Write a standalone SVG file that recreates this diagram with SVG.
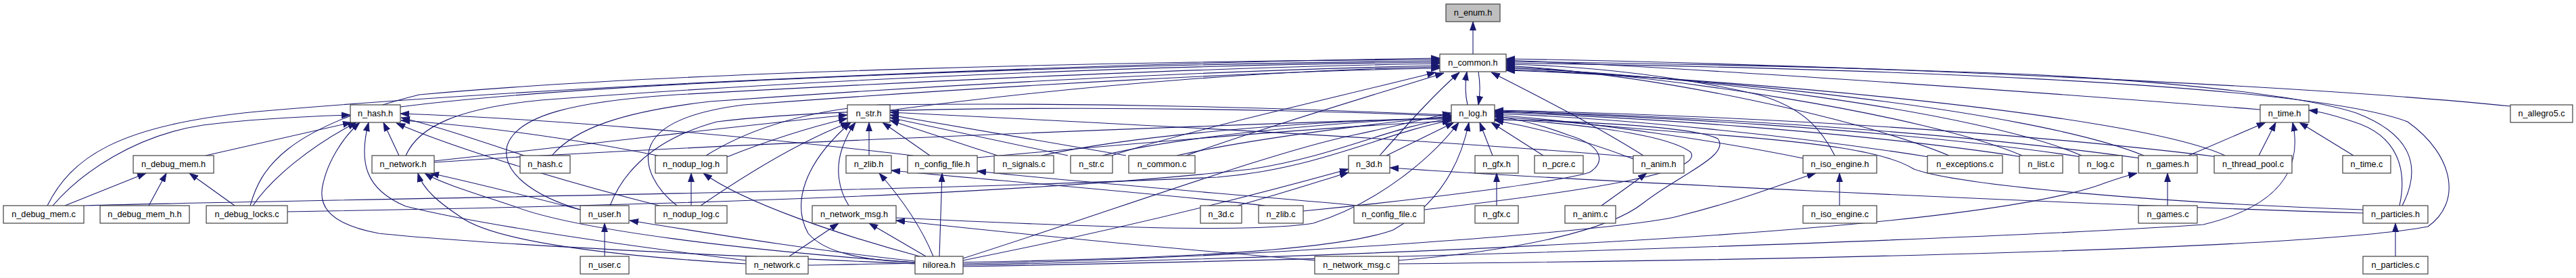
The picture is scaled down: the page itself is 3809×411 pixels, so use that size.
<svg xmlns="http://www.w3.org/2000/svg" width="3809" height="411" viewBox="0 0 3809 411">
<style>
.n rect{fill:#fff;stroke:#404040;stroke-width:1.2}
.n text{font-family:"Liberation Sans",Arial,sans-serif;font-size:12.7px;text-anchor:middle;fill:#000}
#root rect{fill:#bfbfbf}
.e path{fill:none;stroke:#191970;stroke-width:1.1;marker-end:url(#ah)}
</style>
<defs>
<marker id="ah" markerUnits="userSpaceOnUse" markerWidth="14" markerHeight="10" refX="13" refY="5" orient="auto" viewBox="0 0 14 10"><path d="M0,0.5 L13,5 L0,9.5 Z" fill="#191970" stroke="#191970" stroke-width="0.8"/></marker>
</defs>
<rect width="3809" height="411" fill="#fff"/>
<g id="connectors" class="e">
<path d="M2178,80 L2178,32"/>
<path d="M2170,155 C2166,138 2166,124 2169,106"/>
<path d="M2186,106 C2189,124 2189,138 2186,155"/>
<path d="M70,304 C105,235 170,185 380,165 C900,120 1700,92 2129,86"/>
<path d="M370,304 C385,250 420,190 620,140 C1000,105 1700,90 2129,88"/>
<path d="M592,158 C900,118 1700,94 2129,90"/>
<path d="M600,230 C620,185 680,160 800,148 C1200,118 1700,96 2129,92"/>
<path d="M858,310 C790,290 740,255 750,215 C765,170 850,150 1000,140 C1400,118 1800,99 2129,94"/>
<path d="M816,230 C850,190 920,165 1050,150 C1400,125 1800,104 2129,97"/>
<path d="M1316,163 C1600,125 1900,103 2129,99"/>
<path d="M1001,304 C970,280 950,245 962,215 C975,185 1020,165 1100,155 C1500,125 1900,104 2129,101"/>
<path d="M1644,230 C1750,195 1950,150 2123,107"/>
<path d="M1754,230 C1820,205 1950,165 2135,108"/>
<path d="M2040,230 C2080,185 2120,140 2158,107"/>
<path d="M2430,230 C2350,180 2260,135 2205,107"/>
<path d="M3712,157 C3400,125 2700,95 2227,87"/>
<path d="M3342,162 C3000,135 2500,100 2227,89"/>
<path d="M3552,304 C3580,250 3570,200 3484,167 C3400,140 3200,120 3000,110 C2700,98 2400,93 2227,91"/>
<path d="M2068,390 C2600,385 3400,370 3590,335 C3640,300 3630,230 3560,180 C3400,120 2700,100 2227,93"/>
<path d="M2713,230 C2695,195 2670,160 2600,140 C2450,105 2300,96 2227,95"/>
<path d="M2882,230 C2750,175 2450,110 2227,97"/>
<path d="M2990,230 C2850,170 2450,108 2227,99"/>
<path d="M3078,230 C2930,165 2470,107 2227,101"/>
<path d="M3170,230 C3000,160 2480,110 2227,103"/>
<path d="M3290,230 C3150,165 2500,112 2227,104"/>
<path d="M124,304 C500,294 1300,285 1800,262 C1950,250 2050,195 2146,178"/>
<path d="M425,313 C900,305 1500,290 1850,250 C1980,230 2060,185 2146,176"/>
<path d="M642,240 C1000,215 1800,185 2146,174"/>
<path d="M902,304 C915,270 950,210 1060,180 C1300,150 1900,160 2146,172"/>
<path d="M1044,230 C1100,195 1180,165 1300,155 C1700,150 2000,165 2146,170"/>
<path d="M1445,233 C1700,210 2000,185 2146,179"/>
<path d="M1540,230 C1700,195 2000,175 2146,176"/>
<path d="M1630,230 C1750,200 2000,178 2146,174"/>
<path d="M1740,230 C1850,205 2050,180 2146,172"/>
<path d="M1424,382 C1650,310 1880,225 2000,200 C2080,183 2120,172 2146,167"/>
<path d="M2050,230 L2150,181"/>
<path d="M1325,322 C1600,335 1850,345 1942,330 C2040,300 2120,230 2157,181"/>
<path d="M1195,392 C1600,385 1950,380 2060,340 C2130,300 2160,240 2172,181"/>
<path d="M2207,230 L2188,181"/>
<path d="M2282,230 L2205,181"/>
<path d="M2415,235 C2350,210 2280,190 2210,178"/>
<path d="M1927,312 C2100,295 2300,270 2350,255 C2375,240 2370,215 2320,200 C2280,185 2240,175 2210,172"/>
<path d="M2106,310 C2350,282 2520,255 2500,225 C2460,195 2300,180 2210,176"/>
<path d="M2666,234 C2550,210 2350,180 2210,170"/>
<path d="M2852,232 C2650,200 2400,175 2210,168"/>
<path d="M2990,232 C2750,195 2400,172 2210,166"/>
<path d="M3078,232 C2800,190 2400,170 2210,165"/>
<path d="M3165,234 C2850,190 2450,170 2210,164"/>
<path d="M3280,232 C2900,185 2450,168 2210,163"/>
<path d="M3494,310 C3200,300 2900,275 2830,250 C2790,225 2700,210 2480,195 C2350,185 2270,175 2210,173"/>
<path d="M2068,385 C2250,370 2380,340 2430,300 C2480,260 2560,230 2540,205 C2500,185 2300,178 2210,177"/>
<path d="M78,304 C120,255 200,200 300,185 C380,175 450,172 518,170"/>
<path d="M304,230 L520,181"/>
<path d="M374,304 C400,265 460,215 527,181"/>
<path d="M1353,390 C1000,375 700,360 560,345 C480,330 470,300 478,270 C485,240 505,205 532,181"/>
<path d="M1103,385 C900,360 700,330 600,305 C540,280 530,240 545,181"/>
<path d="M590,230 L567,181"/>
<path d="M975,304 C800,260 650,210 586,182"/>
<path d="M1350,230 C1100,200 800,175 592,168"/>
<path d="M775,230 C700,205 640,185 593,174"/>
<path d="M972,230 C850,205 700,185 593,178"/>
<path d="M96,304 L216,256"/>
<path d="M220,304 L246,256"/>
<path d="M347,304 L280,256"/>
<path d="M858,310 C780,290 700,270 636,256"/>
<path d="M1353,388 C1100,370 850,340 760,305 C700,285 650,270 628,256"/>
<path d="M1103,390 C850,375 720,350 680,320 C650,300 625,280 618,256"/>
<path d="M642,238 C900,210 1100,185 1253,170"/>
<path d="M1075,232 C1130,210 1190,190 1253,175"/>
<path d="M1036,304 C1100,260 1180,210 1256,181"/>
<path d="M1353,388 C1280,385 1220,375 1195,345 C1170,300 1190,240 1258,181"/>
<path d="M1255,304 C1240,280 1235,250 1245,220 C1252,200 1258,190 1265,181"/>
<path d="M1285,230 L1285,181"/>
<path d="M1375,230 L1305,181"/>
<path d="M1475,230 L1316,178"/>
<path d="M1579,230 L1316,174"/>
<path d="M1665,230 L1316,170"/>
<path d="M2415,232 C2100,205 1600,180 1316,166"/>
<path d="M894,379 L894,330"/>
<path d="M1353,386 C1200,370 1050,345 931,326"/>
<path d="M1022,304 L1022,256"/>
<path d="M1360,379 C1250,350 1100,300 1040,256"/>
<path d="M1167,379 L1240,330"/>
<path d="M1369,379 L1285,330"/>
<path d="M1944,385 C1700,365 1500,345 1325,326"/>
<path d="M1380,379 C1360,330 1330,290 1300,256"/>
<path d="M1870,304 C1700,285 1450,265 1318,252"/>
<path d="M1389,379 L1393,256"/>
<path d="M2010,304 C1800,285 1600,270 1445,253"/>
<path d="M1830,304 C1900,285 1960,265 1994,255"/>
<path d="M1424,385 C1650,340 1850,290 1994,250"/>
<path d="M3494,315 C3000,300 2300,265 2055,248"/>
<path d="M2213,304 L2213,256"/>
<path d="M2368,304 L2435,256"/>
<path d="M2720,304 L2720,256"/>
<path d="M1424,390 C1900,380 2400,340 2480,320 C2580,295 2640,270 2685,256"/>
<path d="M3205,304 L3205,256"/>
<path d="M1424,392 C2200,375 2900,340 3100,275 C3120,268 3135,262 3160,256"/>
<path d="M3236,230 L3350,181"/>
<path d="M3340,230 L3365,181"/>
<path d="M3480,230 L3400,181"/>
<path d="M3548,304 C3560,250 3545,200 3480,180 C3450,170 3430,165 3414,163"/>
<path d="M1424,394 C2200,380 3000,350 3258,332 C3370,305 3405,250 3390,181"/>
<path d="M3542,379 L3542,330"/>
</g>
<g id="root" class="n"><rect x="2138" y="6" width="80" height="26"/><text x="2178" y="23">n_enum.h</text></g>
<g id="n_common_h" class="n"><rect x="2129" y="80" width="98" height="26"/><text x="2178" y="97">n_common.h</text></g>
<g id="n_hash_h" class="n"><rect x="518" y="155" width="74" height="26"/><text x="555" y="172">n_hash.h</text></g>
<g id="n_str_h" class="n"><rect x="1253" y="155" width="63" height="26"/><text x="1284.5" y="172">n_str.h</text></g>
<g id="n_log_h" class="n"><rect x="2146" y="155" width="64" height="26"/><text x="2178" y="172">n_log.h</text></g>
<g id="n_time_h" class="n"><rect x="3342" y="155" width="72" height="26"/><text x="3378" y="172">n_time.h</text></g>
<g id="n_allegro5_c" class="n"><rect x="3712" y="155" width="92" height="26"/><text x="3758" y="172">n_allegro5.c</text></g>
<g id="n_debug_mem_h" class="n"><rect x="197" y="230" width="119" height="26"/><text x="256.5" y="247">n_debug_mem.h</text></g>
<g id="n_network_h" class="n"><rect x="550" y="230" width="92" height="26"/><text x="596" y="247">n_network.h</text></g>
<g id="n_hash_c" class="n"><rect x="769" y="230" width="74" height="26"/><text x="806" y="247">n_hash.c</text></g>
<g id="n_nodup_log_h" class="n"><rect x="969" y="230" width="106" height="26"/><text x="1022" y="247">n_nodup_log.h</text></g>
<g id="n_zlib_h" class="n"><rect x="1251" y="230" width="67" height="26"/><text x="1284.5" y="247">n_zlib.h</text></g>
<g id="n_config_file_h" class="n"><rect x="1342" y="230" width="103" height="26"/><text x="1393.5" y="247">n_config_file.h</text></g>
<g id="n_signals_c" class="n"><rect x="1470" y="230" width="88" height="26"/><text x="1514" y="247">n_signals.c</text></g>
<g id="n_str_c" class="n"><rect x="1583" y="230" width="62" height="26"/><text x="1614" y="247">n_str.c</text></g>
<g id="n_common_c" class="n"><rect x="1669" y="230" width="98" height="26"/><text x="1718" y="247">n_common.c</text></g>
<g id="n_3d_h" class="n"><rect x="1994" y="230" width="61" height="26"/><text x="2024.5" y="247">n_3d.h</text></g>
<g id="n_gfx_h" class="n"><rect x="2181" y="230" width="64" height="26"/><text x="2213" y="247">n_gfx.h</text></g>
<g id="n_pcre_c" class="n"><rect x="2269" y="230" width="72" height="26"/><text x="2305" y="247">n_pcre.c</text></g>
<g id="n_anim_h" class="n"><rect x="2415" y="230" width="75" height="26"/><text x="2452.5" y="247">n_anim.h</text></g>
<g id="n_iso_engine_h" class="n"><rect x="2666" y="230" width="109" height="26"/><text x="2720.5" y="247">n_iso_engine.h</text></g>
<g id="n_exceptions_c" class="n"><rect x="2850" y="230" width="111" height="26"/><text x="2905.5" y="247">n_exceptions.c</text></g>
<g id="n_list_c" class="n"><rect x="2986" y="230" width="64" height="26"/><text x="3018" y="247">n_list.c</text></g>
<g id="n_log_c" class="n"><rect x="3074" y="230" width="64" height="26"/><text x="3106" y="247">n_log.c</text></g>
<g id="n_games_h" class="n"><rect x="3162" y="230" width="87" height="26"/><text x="3205.5" y="247">n_games.h</text></g>
<g id="n_thread_pool_c" class="n"><rect x="3274" y="230" width="115" height="26"/><text x="3331.5" y="247">n_thread_pool.c</text></g>
<g id="n_time_c" class="n"><rect x="3464" y="230" width="71" height="26"/><text x="3499.5" y="247">n_time.c</text></g>
<g id="n_debug_mem_c" class="n"><rect x="5" y="304" width="119" height="26"/><text x="64.5" y="321">n_debug_mem.c</text></g>
<g id="n_debug_mem_h_h" class="n"><rect x="148" y="304" width="132" height="26"/><text x="214" y="321">n_debug_mem_h.h</text></g>
<g id="n_debug_locks_c" class="n"><rect x="305" y="304" width="120" height="26"/><text x="365" y="321">n_debug_locks.c</text></g>
<g id="n_user_h" class="n"><rect x="858" y="304" width="72" height="26"/><text x="894" y="321">n_user.h</text></g>
<g id="n_nodup_log_c" class="n"><rect x="969" y="304" width="106" height="26"/><text x="1022" y="321">n_nodup_log.c</text></g>
<g id="n_network_msg_h" class="n"><rect x="1201" y="304" width="124" height="26"/><text x="1263" y="321">n_network_msg.h</text></g>
<g id="n_3d_c" class="n"><rect x="1775" y="304" width="61" height="26"/><text x="1805.5" y="321">n_3d.c</text></g>
<g id="n_zlib_c" class="n"><rect x="1861" y="304" width="66" height="26"/><text x="1894" y="321">n_zlib.c</text></g>
<g id="n_config_file_c" class="n"><rect x="2002" y="304" width="104" height="26"/><text x="2054" y="321">n_config_file.c</text></g>
<g id="n_gfx_c" class="n"><rect x="2181" y="304" width="64" height="26"/><text x="2213" y="321">n_gfx.c</text></g>
<g id="n_anim_c" class="n"><rect x="2314" y="304" width="75" height="26"/><text x="2351.5" y="321">n_anim.c</text></g>
<g id="n_iso_engine_c" class="n"><rect x="2666" y="304" width="109" height="26"/><text x="2720.5" y="321">n_iso_engine.c</text></g>
<g id="n_games_c" class="n"><rect x="3162" y="304" width="87" height="26"/><text x="3205.5" y="321">n_games.c</text></g>
<g id="n_particles_h" class="n"><rect x="3494" y="304" width="96" height="26"/><text x="3542" y="321">n_particles.h</text></g>
<g id="n_user_c" class="n"><rect x="858" y="379" width="72" height="26"/><text x="894" y="396">n_user.c</text></g>
<g id="n_network_c" class="n"><rect x="1103" y="379" width="92" height="26"/><text x="1149" y="396">n_network.c</text></g>
<g id="nilorea_h" class="n"><rect x="1353" y="379" width="71" height="26"/><text x="1388.5" y="396">nilorea.h</text></g>
<g id="n_network_msg_c" class="n"><rect x="1944" y="379" width="124" height="26"/><text x="2006" y="396">n_network_msg.c</text></g>
<g id="n_particles_c" class="n"><rect x="3494" y="379" width="96" height="26"/><text x="3542" y="396">n_particles.c</text></g>
</svg>
